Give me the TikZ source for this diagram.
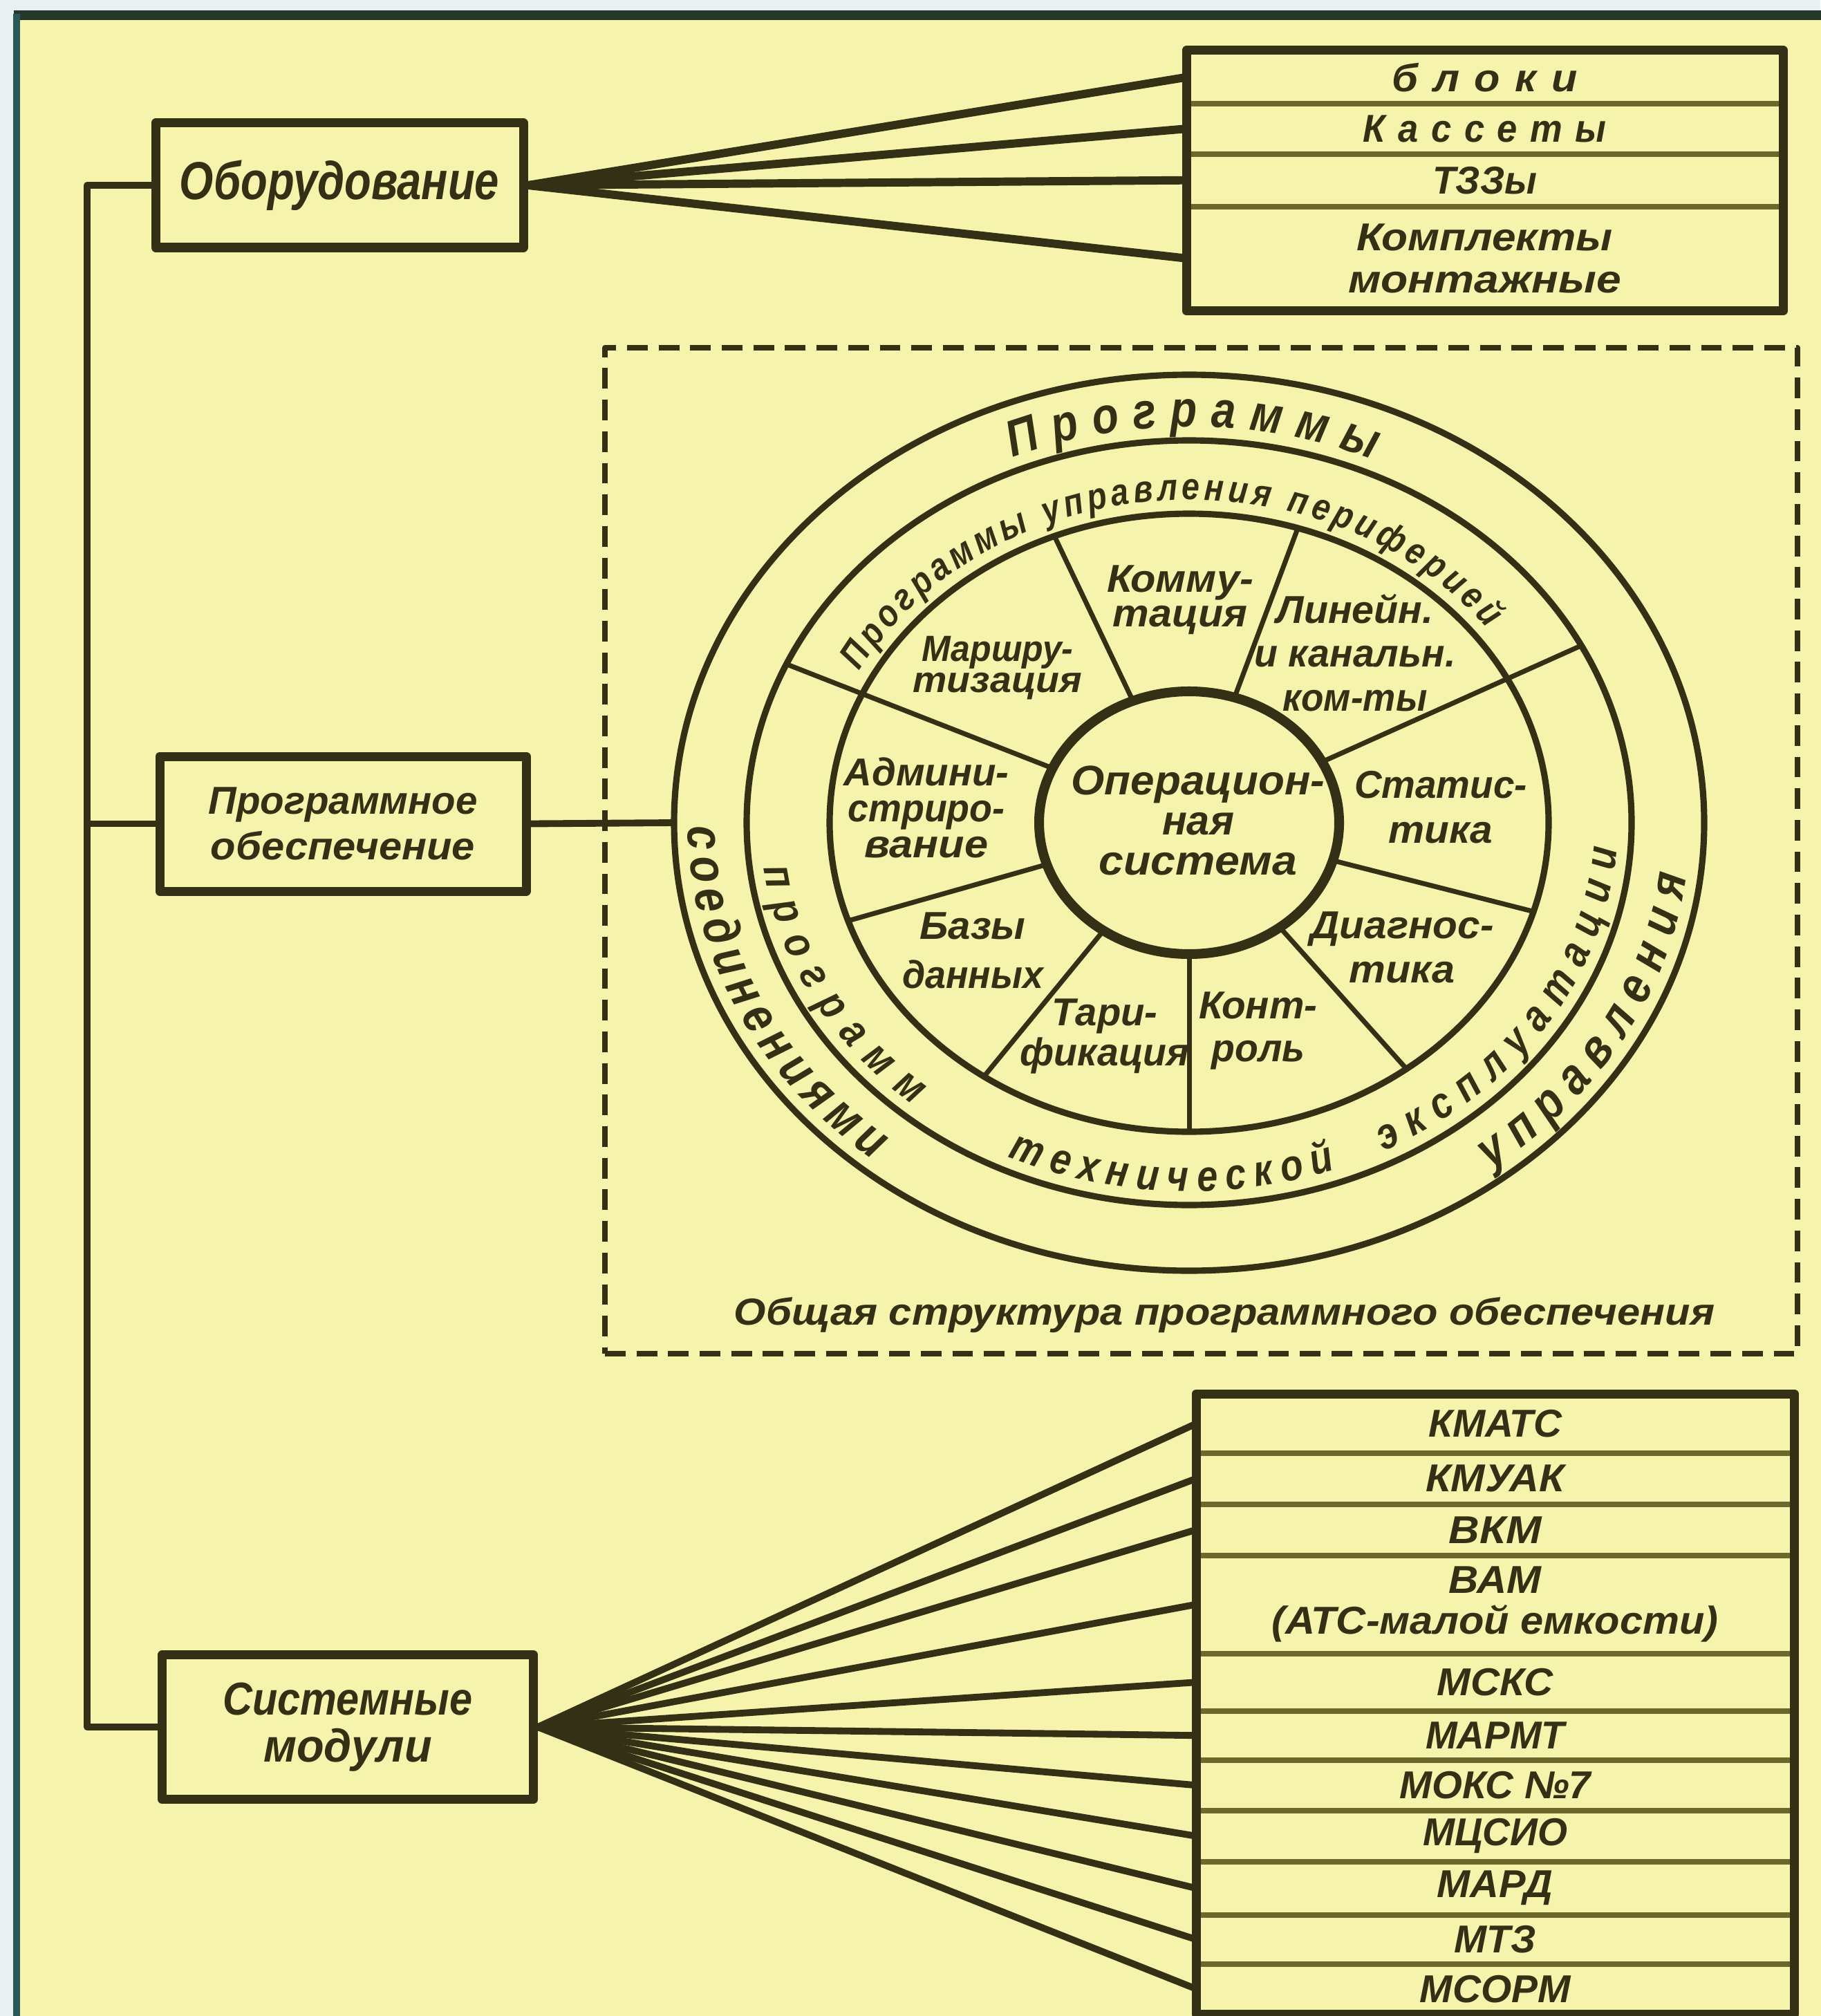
\documentclass[tikz,border=0pt]{standalone}
\usepackage{fontspec}
\usepackage{graphicx}
\newfontfamily\df{Liberation Sans}[FakeStretch=0.85]
\newfontfamily\dfbi{Liberation Sans}[FakeStretch=0.85, UprightFont={* Bold Italic}]
\usetikzlibrary{decorations.text}
\definecolor{paper}{RGB}{246,243,172}
\definecolor{outside}{RGB}{232,240,242}
\definecolor{ink}{RGB}{52,48,22}
\definecolor{divc}{RGB}{108,104,44}
\definecolor{topc}{RGB}{38,56,44}
\definecolor{leftc}{RGB}{40,88,88}
\newcommand\fw[2]{\resizebox{#1cm}{\height}{#2}}
\newcommand\lk{\kern0.3em}
\newcommand\bandA{\dfbi\fontsize{21pt}{21pt}\selectfont\color{ink}}
\newcommand\bandB{\dfbi\fontsize{18pt}{18pt}\selectfont\color{ink}}
\newcommand\bandC{\dfbi\fontsize{15.5pt}{15.5pt}\selectfont\color{ink}}
\begin{document}
\begin{tikzpicture}[
  wf/.style 2 args={font=\df\bfseries\itshape\fontsize{#1pt}{#2pt}\selectfont, align=center, text=ink, inner sep=0pt},
  box/.style={draw=ink, line width=3.7pt, rectangle, inner sep=0pt},
  boxline/.style={draw=ink, line width=3.7pt},
  cell/.style={rectangle, anchor=north west, inner sep=0pt},
  fan/.style={draw=ink, line width=3.4pt},
  fanb/.style={draw=ink, line width=2.8pt},
  bus/.style={draw=ink, line width=2.8pt},
  divl/.style={draw=divc, line width=2.3pt},
  ell/.style={draw=ink, line width=2.6pt},
  spoke/.style={draw=ink, line width=2pt},
  dashbox/.style={draw=ink, line width=2.3pt, dash pattern=on 8.5pt off 4.5pt, rectangle, inner sep=0pt},
  line join=round
]
\useasboundingbox (0,0) rectangle (26.33,-29.16);
\fill[outside] (0,0) rectangle (26.33,-29.16);
\fill[paper] (0.24,-0.22) rectangle (26.40,-29.20);
\draw[topc, line width=4pt] (0.20,-0.22) -- (26.40,-0.22);
\draw[leftc, line width=3pt] (0.24,-0.20) -- (0.24,-29.20);

% left column boxes
\node[box, wf={22}{26}, minimum width=5.32cm, minimum height=1.80cm] (obor) at (4.91,-2.68) {\fw{4.62}{Оборудование}};
\node[box, wf={16}{19}, minimum width=5.30cm, minimum height=1.95cm] (prog) at (4.96,-11.915) {\fw{3.89}{Программное}\\\fw{3.82}{обеспечение}};
\node[box, wf={19}{19.3}, minimum width=5.37cm, minimum height=2.09cm] (sys) at (5.03,-24.98) {\fw{3.61}{Системные}\\\fw{2.44}{модули}};

% bus
\coordinate (b1) at (1.26,-2.68);
\coordinate (b3) at (1.26,-24.98);
\draw[bus] (obor.west) -- (b1) -- (b3) -- (sys.west);
\draw[bus] (prog.west) -- (prog.west -| b1);

% top right box
\node[cell, wf={16}{17.4}, minimum width=8.62cm, minimum height=0.76cm] (t1) at (17.16,-0.73) {\fw{2.68}{б\lk л\lk о\lk к\lk и}};
\node[cell, wf={16}{17.4}, minimum width=8.62cm, minimum height=0.73cm] (t2) at (17.16,-1.49) {\fw{3.52}{К\lk а\lk с\lk с\lk е\lk т\lk ы}};
\node[cell, wf={16}{17.4}, minimum width=8.62cm, minimum height=0.76cm] (t3) at (17.16,-2.22) {\fw{1.51}{ТЗЗы}};
\node[cell, wf={16}{17.4}, minimum width=8.62cm, minimum height=1.50cm] (t4) at (17.16,-2.98) {\fw{3.70}{Комплекты}\\\fw{3.95}{монтажные}};
\foreach \r in {t1,t2,t3} \draw[divl] (\r.south west) -- (\r.south east);
\draw[boxline] (t1.north west) rectangle (t4.south east);
\foreach \r in {t1,t2,t3,t4} \draw[fan] (obor.east) -- (\r.west);

% bottom right box
\node[cell, wf={16}{16.8}, minimum width=8.64cm, minimum height=0.85cm] (s1) at (17.30,-20.16) {\fw{1.93}{КМАТС}};
\node[cell, wf={16}{16.8}, minimum width=8.64cm, minimum height=0.74cm] (s2) at (17.30,-21.01) {\fw{2.01}{КМУАК}};
\node[cell, wf={16}{16.8}, minimum width=8.64cm, minimum height=0.74cm] (s3) at (17.30,-21.75) {\fw{1.34}{ВКМ}};
\node[cell, wf={16}{16.8}, minimum width=8.64cm, minimum height=1.42cm] (s4) at (17.30,-22.49) {\fw{1.34}{ВАМ}\\\fw{6.46}{(АТС-малой емкости)}};
\node[cell, wf={16}{16.8}, minimum width=8.64cm, minimum height=0.83cm] (s5) at (17.30,-23.91) {\fw{1.68}{МСКС}};
\node[cell, wf={16}{16.8}, minimum width=8.64cm, minimum height=0.71cm] (s6) at (17.30,-24.74) {\fw{2.01}{МАРМТ}};
\node[cell, wf={16}{16.8}, minimum width=8.64cm, minimum height=0.73cm] (s7) at (17.30,-25.45) {\fw{2.77}{МОКС №7}};
\node[cell, wf={16}{16.8}, minimum width=8.64cm, minimum height=0.74cm] (s8) at (17.30,-26.18) {\fw{2.09}{МЦСИО}};
\node[cell, wf={16}{16.8}, minimum width=8.64cm, minimum height=0.77cm] (s9) at (17.30,-26.92) {\fw{1.68}{МАРД}};
\node[cell, wf={16}{16.8}, minimum width=8.64cm, minimum height=0.71cm] (s10) at (17.30,-27.69) {\fw{1.18}{МТЗ}};
\node[cell, wf={16}{16.8}, minimum width=8.64cm, minimum height=0.72cm] (s11) at (17.30,-28.40) {\fw{2.18}{МСОРМ}};
\foreach \r in {s1,s2,s3,s4,s5,s6,s7,s8,s9,s10} \draw[divl] (\r.south west) -- (\r.south east);
\draw[boxline] (s1.north west) rectangle (s11.south east);
\foreach \r in {s1,s2,s3,s4,s5,s6,s7,s8,s9,s10,s11} \draw[fanb] (sys.east) -- (\r.west);

% dashed frame and caption
\node[dashbox, minimum width=17.25cm, minimum height=14.55cm] (frame) at (17.375,-12.305) {};
\node[wf={15.5}{18}] (cap) at (17.71,-19.02) {\fw{14.18}{Общая структура программного обеспечения}};

% wheel
\coordinate (C) at (17.20,-11.90);
\begin{scope}[shift={(C)}]
  \draw[ell] (0,0) ellipse [x radius=7.45, y radius=6.48];
  \draw[ell] (0,0) ellipse [x radius=6.40, y radius=5.53];
  \draw[ell] (0,0) ellipse [x radius=5.20, y radius=4.47];
  \foreach \a in {112,72.4,-16.7,-52.8,-90,235.2,198.5}
    \draw[spoke] (\a:2.17 and 1.90) -- (\a:5.20 and 4.47);
  \foreach \a in {27.6,155.5}
    \draw[spoke] (\a:2.17 and 1.90) -- (\a:6.40 and 5.53);
  \draw[draw=ink, line width=4pt, fill=paper] (0,0) ellipse [x radius=2.17, y radius=1.90];
  \coordinate (wW) at (180:7.45 and 6.48);
  % band texts
  \path[decorate, decoration={text along path, text align=fit to path, text={|\bandA|Программы}}]
    (112.7:6.62 and 5.73) arc[start angle=112.7, end angle=66.3, x radius=6.62, y radius=5.73];
  \path[decorate, decoration={text along path, text align=fit to path, text={|\bandA|управления}}]
    (-53:7.25 and 6.28) arc[start angle=-53, end angle=-7, x radius=7.25, y radius=6.28];
  \path[decorate, decoration={text along path, text align=fit to path, text={|\bandA|соединениями}}]
    (180.5:7.25 and 6.28) arc[start angle=180.5, end angle=231, x radius=7.25, y radius=6.28];
  \path[decorate, decoration={text along path, text align=fit to path, text={|\bandC|Программы управления периферией}}]
    (152:5.40 and 4.67) arc[start angle=152, end angle=37, x radius=5.40, y radius=4.67];
  \path[decorate, decoration={text along path, text align=fit to path, text={|\bandB|программ}}]
    (187:6.20 and 5.33) arc[start angle=187, end angle=230, x radius=6.20, y radius=5.33];
  \path[decorate, decoration={text along path, text align=fit to path, text={|\bandB|технической}}]
    (245:6.20 and 5.33) arc[start angle=245, end angle=290, x radius=6.20, y radius=5.33];
  \path[decorate, decoration={text along path, text align=fit to path, text={|\bandB|эксплуатации}}]
    (-63:6.20 and 5.33) arc[start angle=-63, end angle=-4, x radius=6.20, y radius=5.33];
\end{scope}
\draw[bus] (prog.east) -- (wW);

% sector labels
\node[wf={17}{16.5}] (os) at (17.33,-11.87) {\fw{3.67}{Операцион-}\\\fw{1.04}{ная}\\\fw{2.87}{система}};
\node[wf={16}{14.2}] (kom) at (17.07,-8.68) {\fw{2.12}{Комму-}\\\fw{1.95}{тация}};
\node[wf={15}{12.8}] (mar) at (14.43,-9.66) {\fw{2.19}{Маршру-}\\\fw{2.45}{тизация}};
\node[wf={16}{18}] (lin) at (19.60,-9.44) {\fw{2.27}{Линейн.}\\\fw{2.91}{и канальн.}\\\fw{2.09}{ком-ты}};
\node[wf={16}{18.5}] (stat) at (20.84,-11.68) {\fw{2.50}{Статис-}\\\fw{1.51}{тика}};
\node[wf={16}{14.8}] (adm) at (13.40,-11.68) {\fw{2.39}{Админи-}\\\fw{2.27}{стриро-}\\\fw{1.79}{вание}};
\node[wf={16}{20}] (baz) at (14.07,-13.75) {\fw{1.53}{Базы}\\\fw{2.04}{данных}};
\node[wf={16}{16.5}] (tar) at (15.98,-14.99) {\fw{1.53}{Тари-}\\\fw{2.45}{фикация}};
\node[wf={16}{17.6}] (kon) at (18.20,-14.91) {\fw{1.71}{Конт-}\\\fw{1.35}{роль}};
\node[wf={16}{18.2}] (diag) at (20.28,-13.70) {\fw{2.65}{Диагнос-}\\\fw{1.53}{тика}};
\end{tikzpicture}
\end{document}
